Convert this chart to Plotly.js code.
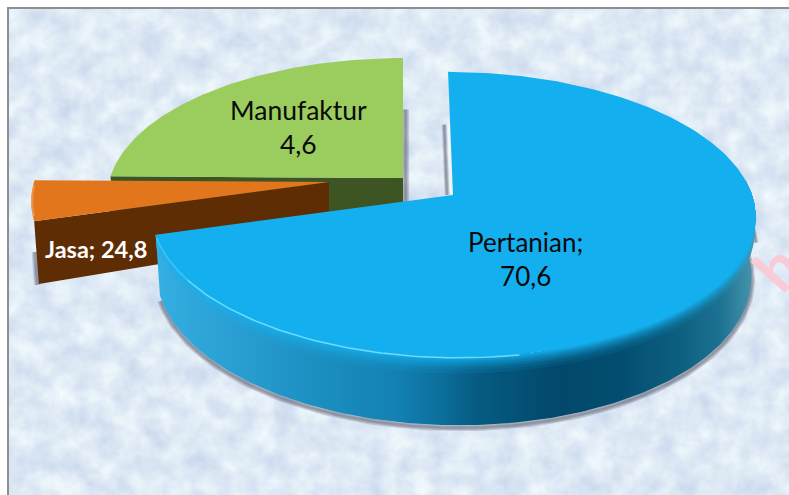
<!DOCTYPE html>
<html>
<head>
<meta charset="utf-8">
<script src="https://cdn.plot.ly/plotly-3.0.0.min.js"></script>
<style>
html,body{margin:0;padding:0;background:#fff;width:789px;height:495px;overflow:hidden}
#bg{position:absolute;left:8px;top:8px;width:781px;height:487px;
background-image:url("data:image/svg+xml;utf8,<svg xmlns='http://www.w3.org/2000/svg' width='781' height='487'><filter id='n' color-interpolation-filters='sRGB'><feTurbulence type='fractalNoise' baseFrequency='0.045' numOctaves='4' seed='11'/><feColorMatrix values='0.20 0 0 0 0.77  0.17 0 0 0 0.83  0.08 0 0 0 0.92  0 0 0 0 1'/></filter><rect width='781' height='487' filter='url(%23n)'/></svg>")}
#chart{position:absolute;left:0;top:0;width:789px;height:495px}
</style>
</head>
<body>
<div id="bg"></div>
<div id="chart"></div>
<script>
// ---- data ----
var categories  = ['Pertanian', 'Jasa', 'Manufaktur'];
var labelValues = ['70,6', '24,8', '4,6'];         // numbers as printed on the labels
var sliceShares = [70.6, 4.6, 24.8];               // slice sizes as drawn, clockwise from 12 o'clock
var sliceColors = ['#14AFEE', '#E2761C', '#9BCD5E'];
var wallColors  = ['#1280B2', '#5E2D03', '#3D5523'];

// ---- perspective pie geometry (style, not data) ----
var K = 0.137;
var pies = [
  {cx:453, cy:195, a:299, b:140,   skew:0.04, h:58.7},
  {cx:329, cy:182, a:295, b:138,   skew:0,    h:54},
  {cx:403, cy:178, a:293, b:136.4, skew:0,    h:60}
];
var wallStops = [[158,'#35AEE2'],[220,'#2BA1D5'],[300,'#1E92C4'],[400,'#1280B2'],[440,'#0C6F9C'],
                 [480,'#055A80'],[560,'#02486B'],[620,'#034E70'],[680,'#0D5F80'],[720,'#1C7292'],[752,'#4593AC']];

function proj(p, deg, r, h){
  var t = deg*Math.PI/180, u = r*Math.sin(t), v = r*Math.cos(t), w = 1+K*v;
  var Y = -p.b*v/w, X = p.a*u/w*(1-0.014*h/p.h);
  return [p.cx + X + p.skew*Y, p.cy + Y + h/w];
}
function arc(p, a0, a1, h, dx, dy){
  var n = Math.max(2, Math.round(Math.abs(a1-a0))), x=[], y=[];
  for(var i=0;i<=n;i++){
    var q = proj(p, a0+(a1-a0)*i/n, 1, h);
    x.push(q[0]+(dx||0)); y.push(q[1]+(dy||0));
  }
  return {x:x,y:y};
}
function hexMix(c1,c2,f){
  var out='#';
  for(var i=1;i<7;i+=2){
    var a=parseInt(c1.substr(i,2),16), b=parseInt(c2.substr(i,2),16);
    var v=Math.round(a+(b-a)*f).toString(16); out+=(v.length<2?'0':'')+v;
  }
  return out;
}
function poly(x,y,color,grad){
  var t={type:'scatter',mode:'lines',x:x,y:y,fill:'toself',line:{width:0,color:color},
         fillcolor:color,hoverinfo:'skip',showlegend:false};
  if(grad) t.fillgradient=grad;
  return t;
}
function line(x,y,color,width){
  return {type:'scatter',mode:'lines',x:x,y:y,line:{color:color,width:width,shape:'linear'},
          hoverinfo:'skip',showlegend:false};
}
function softLine(x,y,w){
  return [w*1.6,w,w*0.5].map(function(ww){return line(x,y,'rgba(85,85,100,0.24)',ww);});
}

// slice angles come from the shares
var angles=[], acc=0;
sliceShares.forEach(function(s){ angles.push([acc*3.6,(acc+s)*3.6]); acc+=s; });

var traces=[];
function face(p,ang,color){
  var A=arc(p,ang[0],ang[1],0);
  var c=proj(p,0,0,0);
  return poly([c[0]].concat(A.x,[c[0]]),[c[1]].concat(A.y,[c[1]]),color);
}
function radialWall(p,deg,color){
  var o0=proj(p,deg,1,0), o1=proj(p,deg,1,p.h*1.12), i1=proj(p,deg,0,p.h), i0=proj(p,deg,0,0);
  return poly([i0[0],o0[0],o1[0],i1[0],i0[0]],[i0[1],o0[1],o1[1],i1[1],i0[1]],color);
}
var REACH = 0.54; // share of the radius along which the cut edge throws a shadow

// --- Manufaktur (far slice) ---
var pM=pies[2], aM=angles[2];
var sa=proj(pM,aM[1],REACH,0), sb=proj(pM,aM[1],0,pM.h*0.4);
softLine([sa[0]+2.5,sb[0]+2.5],[sa[1],sb[1]],4.5).forEach(function(t){traces.push(t);});
traces.push(radialWall(pM,aM[0],wallColors[2]));
traces.push(face(pM,aM,sliceColors[2]));

// --- Jasa (exploded left slice) ---
var pJ=pies[1], aJ=angles[1];
var jo=proj(pJ,aJ[0],1,pJ.h*1.12), jt=proj(pJ,aJ[0],1,pJ.h*0.55);
softLine([jt[0]-1.5,jo[0]-1.5],[jt[1],jo[1]+1],4).forEach(function(t){traces.push(t);});
traces.push(radialWall(pJ,aJ[0],wallColors[1]));
traces.push(face(pJ,aJ,sliceColors[1]));
var rim=arc(pJ,aJ[0]+2,aJ[1]-2,0,1,0);
traces.push(line(rim.x,rim.y,'rgba(238,157,85,0.75)',2));

// --- Pertanian (front slice) ---
var pP=pies[0], aP=angles[0];
var botShadow=arc(pP,68,aP[1]-1,pP.h,0,2.5);
softLine(botShadow.x,botShadow.y,4.5).forEach(function(t){traces.push(t);});
var rightShadow=arc(pP,96,68,pP.h*0.55,3,0);
softLine(rightShadow.x,rightShadow.y,3).forEach(function(t){traces.push(t);});
var pa=proj(pP,0,REACH,0), pb=proj(pP,0,0,0);
softLine([pa[0]-6,pb[0]-6],[pa[1],pb[1]],3).forEach(function(t){traces.push(t);});
traces.push(line([pa[0]-1.5,pb[0]-1.5],[pa[1],pb[1]-1],'rgba(245,248,252,0.8)',2.5));

// wall, from the right end of the silhouette round the front to the cut end
var xmin=wallStops[0][0], xmax=wallStops[wallStops.length-1][0];
function wallGrad(mix){
  return {type:'horizontal',start:xmin,stop:xmax,
    colorscale:wallStops.map(function(s){
      return [(s[0]-xmin)/(xmax-xmin), hexMix(s[1],sliceColors[0],mix)];
    })};
}
function wallBand(h,mix){
  var top=arc(pP,84,aP[1],0), bot=arc(pP,aP[1],84,h);
  return poly(top.x.concat(bot.x,[top.x[0]]),top.y.concat(bot.y,[top.y[0]]),'#1280B2',wallGrad(mix));
}
traces.push(wallBand(pP.h,0));
[[14,0.10],[11,0.2],[8.5,0.34],[6.5,0.48],[4.5,0.62],[2.8,0.76],[1.4,0.9]].forEach(function(b){
  traces.push(wallBand(b[0],b[1]));
});
traces.push(face(pP,aP,sliceColors[0]));
// rim highlight on the lit side of the slice
var glow=arc(pP,170,236,0,0,0.6);
traces.push(line(glow.x,glow.y,'rgba(125,228,255,0.85)',1.5));
var glow2=arc(pP,236,aP[1]-1,0,0,0.6);
traces.push(line(glow2.x,glow2.y,'rgba(60,195,245,0.9)',2));

// --- labels ---
function lab(i,x,y,col,size,bold,sep){
  return {x:x,y:y,xref:'x',yref:'y',showarrow:false,align:'center',xanchor:'center',yanchor:'middle',
    text:(bold?'<b>':'')+categories[i]+sep+labelValues[i]+(bold?'</b>':''),
    font:{family:'Lato, Carlito, sans-serif',size:size,color:col}};
}
var annotations=[
  {x:776,y:267,xref:'x',yref:'y',showarrow:false,textangle:-48,text:'<b>h</b>',xanchor:'center',yanchor:'middle',
   font:{family:'Lato, sans-serif',size:62,color:'#F8CCD6'}},
  lab(0,525,259,'#0a0a0a',26,false,';<br>'),
  lab(2,298,127,'#0a0a0a',26.5,false,'<br>'),
  lab(1,96,249,'#ffffff',23.5,true,'; ')
];

var layout={
  width:789,height:495,margin:{l:0,r:0,t:0,b:0},
  paper_bgcolor:'rgba(0,0,0,0)',plot_bgcolor:'rgba(0,0,0,0)',
  xaxis:{range:[0,789],visible:false,fixedrange:true},
  yaxis:{range:[495,0],visible:false,fixedrange:true},
  showlegend:false,annotations:annotations,
  shapes:[
    {type:'line',xref:'x',yref:'y',x0:8,x1:8,y0:7,y1:495,line:{color:'#8E8E8E',width:2}},
    {type:'line',xref:'x',yref:'y',x0:7,x1:789,y0:8,y1:8,line:{color:'#8E8E8E',width:2}}
  ]
};
Plotly.newPlot('chart',traces,layout,{displayModeBar:false,staticPlot:true});
</script>
</body>
</html>
